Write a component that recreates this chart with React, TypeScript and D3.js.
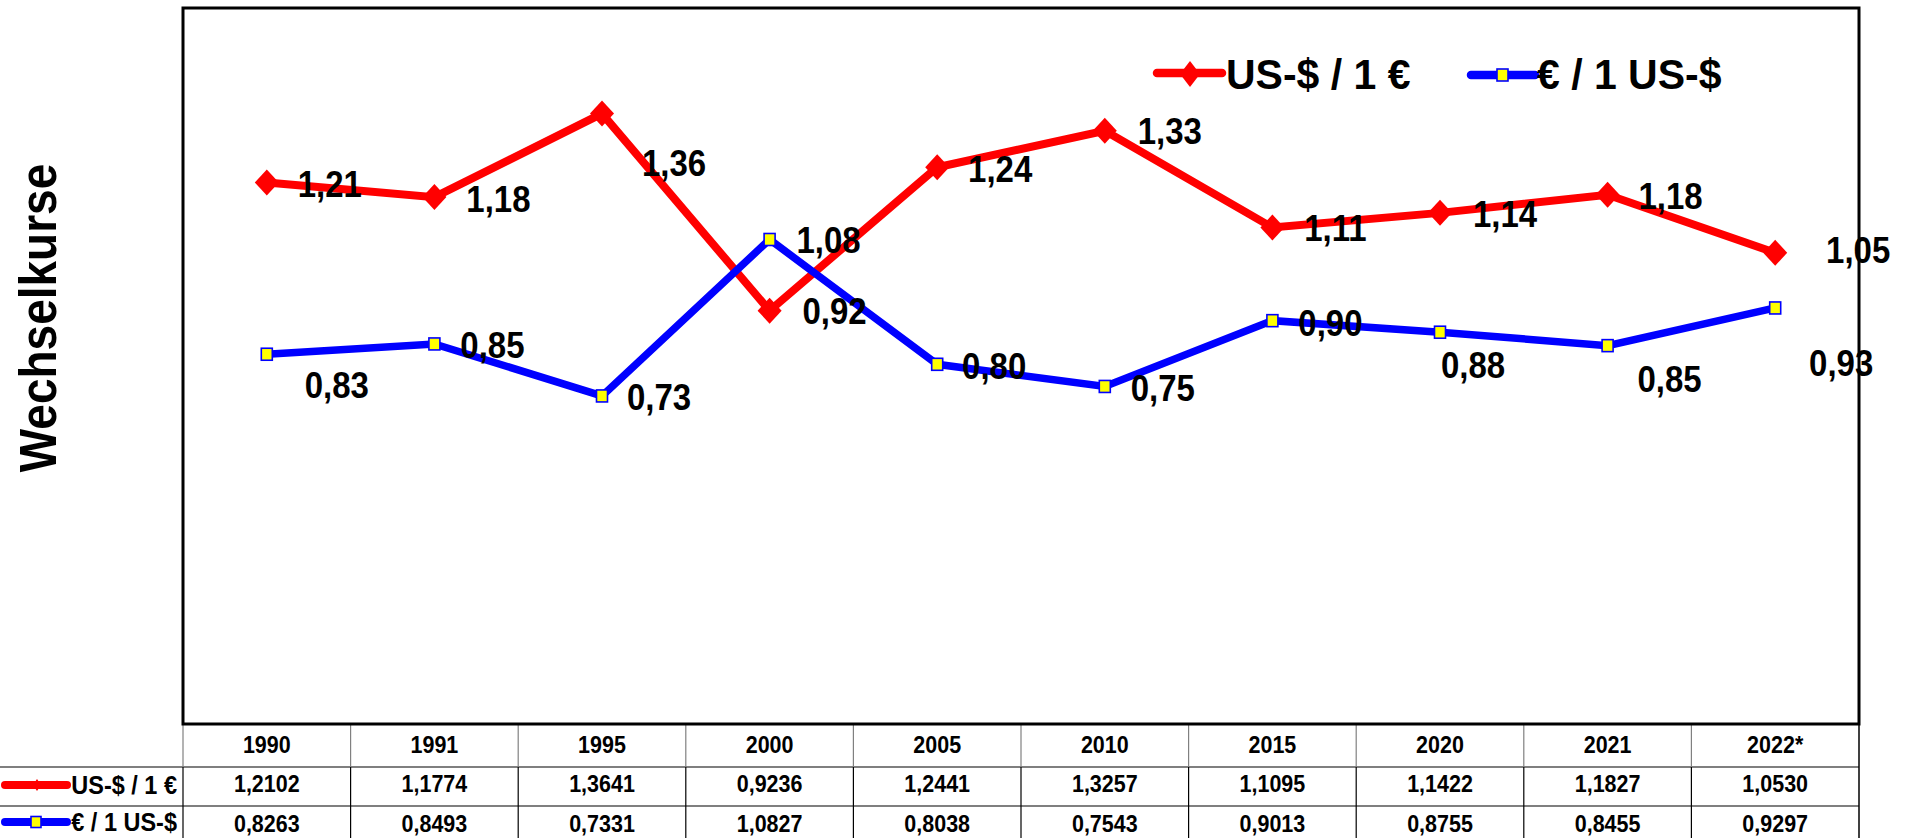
import React from 'react';
import * as d3 from 'd3';

const years = ['1990', '1991', '1995', '2000', '2005', '2010', '2015', '2020', '2021', '2022*'];
const usdPerEur = [1.2102, 1.1774, 1.3641, 0.9236, 1.2441, 1.3257, 1.1095, 1.1422, 1.1827, 1.053];
const eurPerUsd = [0.8263, 0.8493, 0.7331, 1.0827, 0.8038, 0.7543, 0.9013, 0.8755, 0.8455, 0.9297];
const seriesNames = ['US-$ / 1 €', '€ / 1 US-$'];
const yAxisTitle = 'Wechselkurse';

// manual label offsets (label centre relative to point), as in the original
const usdLabelOffsets: [number, number][] = [[63, 2], [64, 2], [72, 49], [65, 0], [63, 2], [65, 0], [63, 1], [65, 1], [63, 1], [83, -3]];
const eurLabelOffsets: [number, number][] = [[70, 31], [58, 1], [57, 1], [59, 1], [57, 2], [58, 2], [58, 2], [33, 33], [62, 33], [66, 55]];

const W = 1905;
const H = 838;
const FONT = '"Liberation Sans", Arial, Helvetica, sans-serif';
const RED = '#ff0000';
const BLUE = '#0000ff';
const YELLOW = '#ffff00';

const plot = { left: 183, right: 1859, top: 8, bottom: 724 };
const rowLines = [767, 806, 845];

const fmt = (v: number, d: number) => v.toFixed(d).replace('.', ',');

function Diamond({ cx, cy, rx, ry }: { cx: number; cy: number; rx: number; ry: number }) {
  return <path d={`M${cx},${cy - ry}L${cx + rx},${cy}L${cx},${cy + ry}L${cx - rx},${cy}Z`} fill={RED} />;
}

function Square({ cx, cy, w, h }: { cx: number; cy: number; w: number; h: number }) {
  return <rect x={cx - w / 2} y={cy - h / 2} width={w} height={h} fill={YELLOW} stroke={BLUE} strokeWidth={1.6} />;
}

// text stretched vertically by sy around its baseline
function SText({ x, y, sy, children, ...rest }: any) {
  return (
    <text transform={`translate(${x},${y}) scale(1,${sy})`} x={0} y={0} fontWeight="bold" fill="#000" {...rest}>
      {children}
    </text>
  );
}

export default function App() {
  const x = d3.scaleBand<string>().domain(years).range([plot.left, plot.right]).padding(0);
  const y = d3.scaleLinear().domain([0, 1.6]).range([plot.bottom, plot.top]);
  const cx = (i: number) => (x(years[i]) as number) + x.bandwidth() / 2;

  const line = d3
    .line<number>()
    .x((_, i) => cx(i))
    .y((v) => y(v));

  const labelFs = 33;
  const labelSy = 1.1;
  const tableFs = 21.5;
  const tableSy = 1.12;

  return (
    <svg
      width={W}
      height={H}
      style={{ position: 'absolute', left: 0, top: 0, background: '#fff' }}
      fontFamily={FONT}
    >
      <rect x={0} y={0} width={W} height={H} fill="#fff" />

      {/* y-axis title */}
      <text
        transform={`translate(56,318) rotate(-90) scale(1,1.12)`}
        textAnchor="middle"
        fontSize={46}
        fontWeight="bold"
        fill="#000"
      >
        {yAxisTitle}
      </text>

      {/* lines */}
      <path d={line(usdPerEur) || ''} fill="none" stroke={RED} strokeWidth={8} strokeLinejoin="miter" />
      {usdPerEur.map((v, i) => (
        <Diamond key={'d' + i} cx={cx(i)} cy={y(v)} rx={12} ry={13} />
      ))}
      <path d={line(eurPerUsd) || ''} fill="none" stroke={BLUE} strokeWidth={7.5} strokeLinejoin="miter" />
      {eurPerUsd.map((v, i) => (
        <Square key={'s' + i} cx={cx(i)} cy={y(v)} w={11} h={12} />
      ))}

      {/* data labels */}
      {usdPerEur.map((v, i) => (
        <SText
          key={'lu' + i}
          x={cx(i) + usdLabelOffsets[i][0]}
          y={y(v) + usdLabelOffsets[i][1] + labelFs * 0.358 * labelSy}
          sy={labelSy}
          textAnchor="middle"
          fontSize={labelFs}
        >
          {fmt(v, 2)}
        </SText>
      ))}
      {eurPerUsd.map((v, i) => (
        <SText
          key={'le' + i}
          x={cx(i) + eurLabelOffsets[i][0]}
          y={y(v) + eurLabelOffsets[i][1] + labelFs * 0.358 * labelSy}
          sy={labelSy}
          textAnchor="middle"
          fontSize={labelFs}
        >
          {fmt(v, 2)}
        </SText>
      ))}

      {/* legend */}
      <line x1={1157} x2={1222} y1={73} y2={73} stroke={RED} strokeWidth={8.5} strokeLinecap="round" />
      <Diamond cx={1190} cy={74} rx={10} ry={13} />
      <SText x={1226} y={89} sy={1.05} fontSize={41}>
        {seriesNames[0]}
      </SText>
      <line x1={1471} x2={1535} y1={75} y2={75} stroke={BLUE} strokeWidth={8.5} strokeLinecap="round" />
      <Square cx={1502.5} cy={75} w={11} h={12} />
      <SText x={1537} y={89} sy={1.05} fontSize={41}>
        {seriesNames[1]}
      </SText>

      {/* data table */}
      <g>
        {rowLines.map((ly, i) => (
          <line key={'h' + i} x1={0} x2={plot.right} y1={ly} y2={ly} stroke="#000" strokeWidth={1.2} />
        ))}
        {years.map((yr, i) => (
          <line
            key={'vh' + i}
            x1={x(yr) as number}
            x2={x(yr) as number}
            y1={plot.bottom}
            y2={rowLines[0]}
            stroke="#808080"
            strokeWidth={1.2}
          />
        ))}
        {years.map((yr, i) => (
          <line
            key={'vv' + i}
            x1={x(yr) as number}
            x2={x(yr) as number}
            y1={rowLines[0]}
            y2={H}
            stroke="#000"
            strokeWidth={1.2}
          />
        ))}
        <line x1={plot.right} x2={plot.right} y1={plot.bottom} y2={H} stroke="#000" strokeWidth={1.5} />

        {years.map((yr, i) => (
          <SText key={'ty' + i} x={cx(i)} y={753} sy={tableSy} textAnchor="middle" fontSize={tableFs}>
            {yr}
          </SText>
        ))}
        {usdPerEur.map((v, i) => (
          <SText key={'tu' + i} x={cx(i)} y={792} sy={tableSy} textAnchor="middle" fontSize={tableFs}>
            {fmt(v, 4)}
          </SText>
        ))}
        {eurPerUsd.map((v, i) => (
          <SText key={'te' + i} x={cx(i)} y={832} sy={tableSy} textAnchor="middle" fontSize={tableFs}>
            {fmt(v, 4)}
          </SText>
        ))}

        {/* row keys */}
        <line x1={5} x2={67} y1={785} y2={785} stroke={RED} strokeWidth={8} strokeLinecap="round" />
        <Diamond cx={37} cy={785} rx={4} ry={6} />
        <SText x={177} y={794} sy={1.1} textAnchor="end" fontSize={23.5}>
          {seriesNames[0]}
        </SText>
        <line x1={5} x2={67} y1={822} y2={822} stroke={BLUE} strokeWidth={8} strokeLinecap="round" />
        <Square cx={36} cy={822} w={10} h={11} />
        <SText x={177} y={831} sy={1.1} textAnchor="end" fontSize={23.5}>
          {seriesNames[1]}
        </SText>
      </g>

      {/* plot frame */}
      <rect
        x={plot.left}
        y={plot.top}
        width={plot.right - plot.left}
        height={plot.bottom - plot.top}
        fill="none"
        stroke="#000"
        strokeWidth={3}
      />
    </svg>
  );
}
